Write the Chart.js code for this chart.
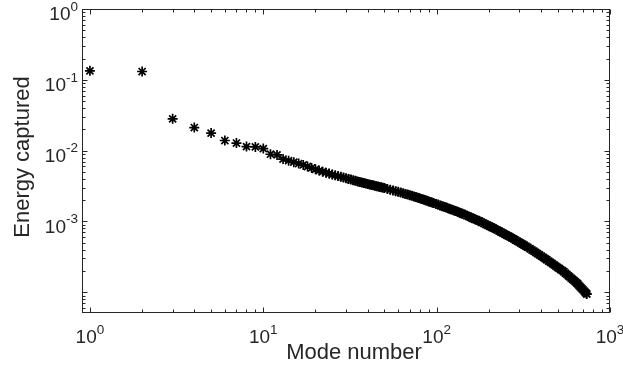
<!DOCTYPE html>
<html>
<head>
<meta charset="utf-8">
<script src="https://cdn.jsdelivr.net/npm/chart.js@4.4.1/dist/chart.umd.min.js"></script>
<style>
  html, body { margin: 0; padding: 0; background: #fff; }
  canvas { display: block; }
</style>
</head>
<body>
<canvas id="modeChart" width="623" height="369"></canvas>
<script>
// mode numbers (dense tail sampled where the markers merge into a band)
const modes = [
  1, 2, 3, 4, 5, 6, 7, 8, 9, 10, 11, 12, 13, 14, 15, 16, 17, 18, 19, 20,
  21, 22, 23, 24, 25, 26, 27, 28, 29, 30, 31, 32, 33, 34, 35, 36, 37, 38, 39, 40,
  41, 42, 43, 44, 45, 46, 47, 48, 49, 50, 52, 54, 56, 58, 60, 62, 64, 66, 68, 70,
  72, 74, 76, 78, 80, 82, 84, 86, 88, 90, 92, 94, 96, 99, 102, 105, 108, 111, 114, 117,
  120, 123, 126, 129, 132, 135, 138, 141, 145, 149, 153, 157, 161, 165, 169, 173, 177, 182, 187, 192,
  197, 202, 207, 212, 217, 223, 229, 235, 241, 247, 253, 259, 265, 271, 278, 285, 292, 299, 306, 313,
  320, 328, 336, 346, 355, 364, 373, 382, 392, 402, 412, 422, 432, 443, 454, 465, 476, 487, 498, 509,
  520, 531, 542, 553, 564, 575, 586, 597, 608, 619, 630, 641, 650, 660, 670, 680, 690, 700, 710, 720,
  730, 735
];

const energy = [
  0.134, 0.131, 0.0281, 0.0212, 0.0177, 0.0139, 0.0128, 0.0114, 0.0113, 0.0107,
  0.0089, 0.0087, 0.0076, 0.00721, 0.00688, 0.00658, 0.00628, 0.00597, 0.00569, 0.00544,
  0.00523, 0.00505, 0.00489, 0.00474, 0.00460, 0.00449, 0.00438, 0.00427, 0.00417, 0.00408,
  0.00399, 0.00391, 0.00383, 0.00375, 0.00368, 0.00361, 0.00355, 0.00349, 0.00343, 0.00338,
  0.00333, 0.00328, 0.00324, 0.00319, 0.00315, 0.00311, 0.00307, 0.00304, 0.00300, 0.00296,
  0.00288, 0.00281, 0.00274, 0.00268, 0.00262, 0.00256, 0.00251, 0.00245, 0.00240, 0.00235,
  0.00230, 0.00226, 0.00221, 0.00216, 0.00212, 0.00208, 0.00204, 0.00200, 0.00196, 0.00192,
  0.00189, 0.00185, 0.00182, 0.00177, 0.00173, 0.00168, 0.00164, 0.00160, 0.00157, 0.00153,
  0.00149, 0.00146, 0.00143, 0.00140, 0.00137, 0.00134, 0.00131, 0.00128, 0.00125, 0.00121,
  0.00118, 0.00115, 0.00111, 0.00108, 0.00106, 0.00103, 0.00101, 0.000973, 0.000942, 0.000912,
  0.000884, 0.000858, 0.000832, 0.000809, 0.000786, 0.000760, 0.000734, 0.000709, 0.000686, 0.000664,
  0.000643, 0.000623, 0.000605, 0.000587, 0.000567, 0.000547, 0.000528, 0.000510, 0.000493, 0.000477,
  0.000462, 0.000446, 0.000430, 0.000412, 0.000395, 0.000380, 0.000365, 0.000351, 0.000337, 0.000324,
  0.000311, 0.000299, 0.000288, 0.000276, 0.000264, 0.000254, 0.000244, 0.000234, 0.000225, 0.000217,
  0.000209, 0.000202, 0.000195, 0.000186, 0.000179, 0.000171, 0.000165, 0.000158, 0.000152, 0.000147,
  0.000141, 0.000136, 0.000132, 0.000126, 0.000121, 0.000116, 0.000112, 0.000108, 0.000104, 0.0000998,
  0.0000962, 0.0000945
];

const xTickPowers = [0, 1, 2, 3];
const yTickPowers = [0, -1, -2, -3];
const xTitle = "Mode number";
const yTitle = "Energy captured";

const ink = "#262626";
const fontFamily = "'Liberation Sans', Arial, Helvetica, sans-serif";

function drawPower(ctx, x, y, power, align) {
  const base = "10";
  const sup = String(power);
  ctx.font = `19px ${fontFamily}`;
  const wb = ctx.measureText(base).width;
  ctx.font = `13.5px ${fontFamily}`;
  const ws = ctx.measureText(sup).width;
  const total = wb + ws;
  const start = align === "right" ? x - total : x - total / 2;
  ctx.textAlign = "left";
  ctx.textBaseline = "middle";
  ctx.font = `19px ${fontFamily}`;
  ctx.fillText(base, start, y);
  ctx.font = `13.5px ${fontFamily}`;
  ctx.fillText(sup, start + wb, y - 8);
}

// MATLAB-style box with inward ticks on all sides
const axesPlugin = {
  id: "matlabAxes",
  afterDraw(chart) {
    const { ctx, chartArea: a } = chart;
    const xs = chart.scales.x;
    const ys = chart.scales.y;
    ctx.save();
    ctx.strokeStyle = ink;
    ctx.fillStyle = ink;
    ctx.lineWidth = 1;

    const L = a.left + 0.5, R = a.right - 0.5, T = a.top + 0.5, B = a.bottom - 0.5;
    ctx.strokeRect(L, T, R - L, B - T);

    ctx.beginPath();
    for (let k = -5; k <= 3; k++) {
      for (let m = 1; m <= 9; m++) {
        const v = m * Math.pow(10, k);
        const len = m === 1 ? 5 : 3;
        if (v >= xs.min && v <= xs.max) {
          const px = Math.round(xs.getPixelForValue(v)) + 0.5;
          ctx.moveTo(px, B); ctx.lineTo(px, B - len);
          ctx.moveTo(px, T); ctx.lineTo(px, T + len);
        }
        if (v >= ys.min && v <= ys.max) {
          const py = Math.round(ys.getPixelForValue(v)) + 0.5;
          ctx.moveTo(L, py); ctx.lineTo(L + len, py);
          ctx.moveTo(R, py); ctx.lineTo(R - len, py);
        }
      }
    }
    ctx.stroke();

    xTickPowers.forEach((p) => {
      const px = xs.getPixelForValue(Math.pow(10, p));
      drawPower(ctx, px, a.bottom + 25, p, "center");
    });
    yTickPowers.forEach((p) => {
      const py = ys.getPixelForValue(Math.pow(10, p));
      drawPower(ctx, a.left - 4, py + 6, p, "right");
    });

    ctx.font = `22px ${fontFamily}`;
    ctx.textAlign = "center";
    ctx.textBaseline = "middle";
    ctx.fillText(xTitle, 354, 353);

    ctx.translate(23, 157);
    ctx.rotate(-Math.PI / 2);
    ctx.fillText(yTitle, 0, 0);
    ctx.restore();
  }
};

new Chart(document.getElementById("modeChart"), {
  type: "scatter",
  plugins: [axesPlugin],
  data: {
    datasets: [{
      label: "Energy",
      data: modes.map((m, i) => ({ x: m, y: energy[i] })),
      pointStyle: "star",
      pointRadius: 5,
      borderWidth: 1.7,
      borderColor: "#000",
      backgroundColor: "#000"
    }]
  },
  options: {
    responsive: false,
    animation: false,
    devicePixelRatio: 1,
    layout: { padding: { left: 82, right: 13, top: 9, bottom: 56 } },
    plugins: { legend: { display: false }, tooltip: { enabled: false } },
    scales: {
      x: { type: "logarithmic", min: 0.9, max: 1000, display: false },
      y: { type: "logarithmic", min: 5.1e-5, max: 1, display: false }
    }
  }
});
</script>
</body>
</html>
